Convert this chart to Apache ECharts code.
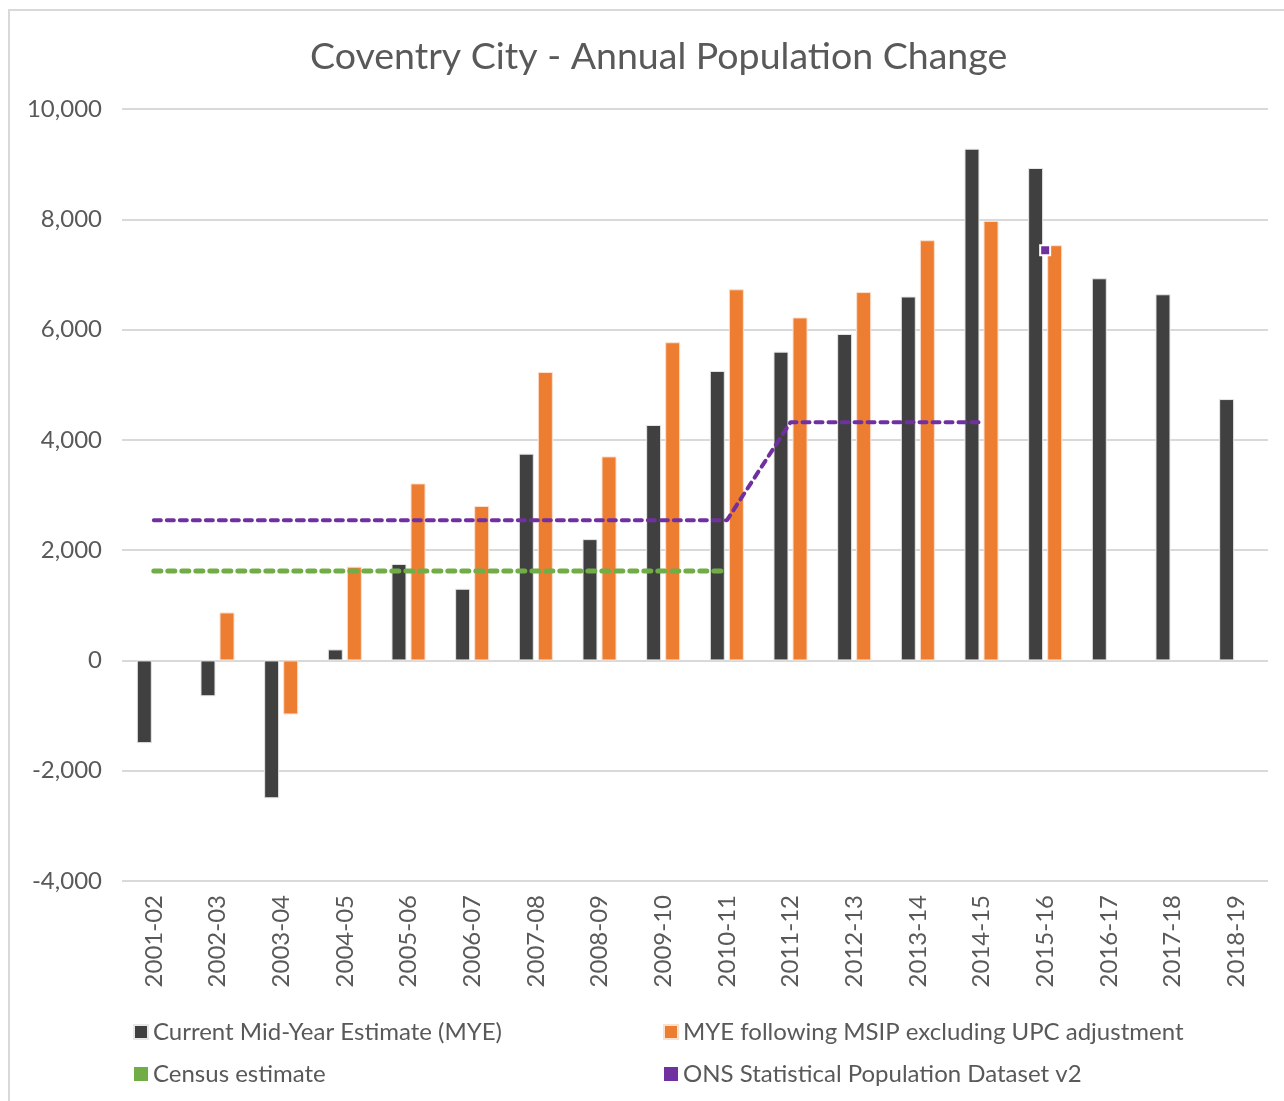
<!DOCTYPE html>
<html>
<head>
<meta charset="utf-8">
<script src="https://cdn.jsdelivr.net/npm/echarts@6/dist/echarts.min.js"></script>
<style>
html, body { margin: 0; padding: 0; background: #fff; }
#chart { width: 1284px; height: 1101px; }
</style>
</head>
<body>
<div id="chart"></div>
<script>
var years = ['2001-02', '2002-03', '2003-04', '2004-05', '2005-06', '2006-07', '2007-08', '2008-09', '2009-10',
	'2010-11', '2011-12', '2012-13', '2013-14', '2014-15', '2015-16', '2016-17', '2017-18', '2018-19'];
var mye = [-1500, -650, -2500, 200, 1750, 1300, 3750, 2200, 4270, 5250, 5600, 5920, 6600, 9280, 8930, 6930, 6640, 4740];
var mye_msip = [null, 870, -980, 1700, 3210, 2800, 5230, 3700, 5770, 6730, 6220, 6680, 7620, 7970, 7530, null, null, null];
var census = [1620, 1620, 1620, 1620, 1620, 1620, 1620, 1620, 1620, 1620, null, null, null, null, null, null, null, null];
var ons_line = [2540, 2540, 2540, 2540, 2540, 2540, 2540, 2540, 2540, 2540, 4320, 4320, 4320, 4320, null, null, null, null];
var ons_point = [null, null, null, null, null, null, null, null, null, null, null, null, null, null, 7440, null, null, null];

var names = ['Current Mid-Year Estimate (MYE)', 'MYE following MSIP excluding UPC adjustment',
	'Census estimate', 'ONS Statistical Population Dataset v2'];
var font = 'Lato, "Open Sans", sans-serif';

var mycharts = echarts.init(document.getElementById('chart'));
var option = {
	backgroundColor: '#fff',
	animation: false,
	graphic: [{
		type: 'rect',
		shape: { x: 9, y: 10, width: 1300, height: 1120 },
		style: { fill: 'none', stroke: '#d9d9d9', lineWidth: 2 }
	}],
	title: {
		text: 'Coventry City - Annual Population Change',
		left: 305,
		top: 33,
		textStyle: { fontFamily: font, fontSize: 37.5, fontWeight: 'normal', color: '#595959' }
	},
	legend: [{
		orient: 'vertical',
		left: 128,
		top: 1015,
		itemGap: 18,
		icon: 'rect',
		itemWidth: 14,
		itemHeight: 14,
		textStyle: { fontFamily: font, fontSize: 24, color: '#595959' },
		data: [names[0], names[2]]
	}, {
		orient: 'vertical',
		left: 658,
		top: 1015,
		itemGap: 18,
		icon: 'rect',
		itemWidth: 14,
		itemHeight: 14,
		textStyle: { fontFamily: font, fontSize: 24, color: '#595959' },
		data: [names[1], names[3]]
	}],
	grid: { left: 122, right: 16, top: 109, bottom: 220 },
	xAxis: {
		type: 'category',
		data: years,
		axisLine: { show: false },
		axisTick: { show: false },
		axisLabel: { rotate: 90, margin: 14, fontFamily: font, fontSize: 24, color: '#595959' }
	},
	yAxis: {
		type: 'value',
		min: -4000,
		max: 10000,
		interval: 2000,
		axisLine: { show: false },
		axisTick: { show: false },
		axisLabel: {
			margin: 20, fontFamily: font, fontSize: 24, color: '#595959',
			formatter: function (v) { return v.toLocaleString('en-GB'); }
		},
		splitLine: { lineStyle: { color: '#d9d9d9', width: 2 } }
	},
	series: [{
		name: names[0],
		type: 'bar',
		barWidth: 15,
		barGap: '27%',
		itemStyle: { color: '#404040', borderColor: '#e8e8e8', borderWidth: 1 },
		data: mye
	}, {
		name: names[1],
		type: 'bar',
		barWidth: 15,
		itemStyle: { color: '#ed7d31', borderColor: '#fbe0cf', borderWidth: 1 },
		data: mye_msip
	}, {
		name: names[2],
		type: 'line',
		symbol: 'none',
		itemStyle: { color: '#70ad47' },
		lineStyle: { color: '#70ad47', width: 5, type: [7, 7], cap: 'round' },
		data: census
	}, {
		name: names[3],
		type: 'line',
		symbol: 'none',
		itemStyle: { color: '#7030a0' },
		lineStyle: { color: '#7030a0', width: 4, type: [7, 6], cap: 'round' },
		data: ons_line
	}, {
		name: names[3],
		type: 'line',
		symbol: 'rect',
		symbolSize: 10,
		showSymbol: true,
		itemStyle: { color: '#7030a0', borderColor: '#fff', borderWidth: 2 },
		lineStyle: { width: 0 },
		data: ons_point
	}]
};
mycharts.setOption(option);
mycharts.resize();
</script>
</body>
</html>
